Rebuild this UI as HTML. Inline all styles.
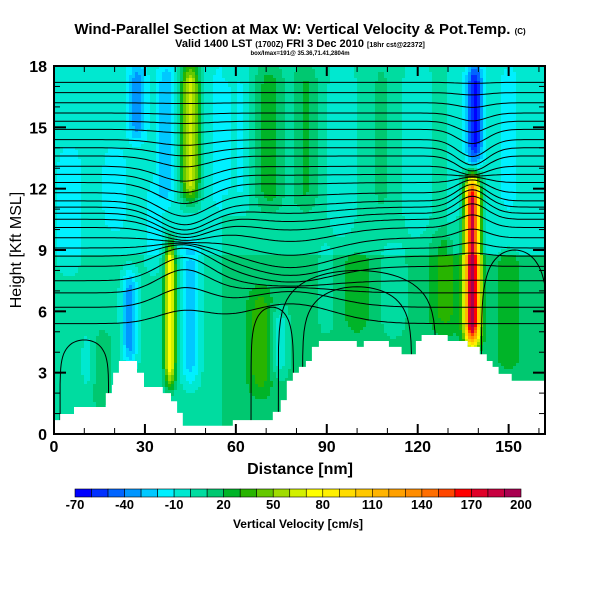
<!DOCTYPE html>
<html><head><meta charset="utf-8"><style>
body{margin:0;background:#fff;}
svg{display:block;font-family:"Liberation Sans",sans-serif;}
</style></head><body>
<svg id="chart" width="600" height="600" viewBox="0 0 600 600">
<text x="300" y="34" text-anchor="middle" font-size="15" font-weight="bold">Wind-Parallel Section at Max W: Vertical Velocity &amp; Pot.Temp. <tspan font-size="8">(C)</tspan></text>
<text x="300" y="47" text-anchor="middle" font-size="11" font-weight="bold">Valid 1400 LST <tspan font-size="8">(1700Z)</tspan> FRI 3 Dec 2010 <tspan font-size="7">[18hr cst@22372]</tspan></text>
<text x="300" y="55" text-anchor="middle" font-size="6" font-weight="bold">box/Imax=191@ 35.36,71.41,2804m</text>
<g id="field"></g>
<g id="contours"></g>
<g id="terrain"></g>
<g id="axes"></g>
<g id="cbar"></g>
<text x="300" y="474" text-anchor="middle" font-size="16" font-weight="bold">Distance [nm]</text>
<text transform="translate(21,250) rotate(-90)" text-anchor="middle" font-size="16">Height [Kft MSL]</text>
<text x="298" y="528" text-anchor="middle" font-size="12" font-weight="bold">Vertical Velocity [cm/s]</text>
</svg>
<script>
// ---- data ----
const xTicks=[0,30,60,90,120,150];
const yTicks=[0,3,6,9,12,15,18];
const cbLabels=[-70,-40,-10,20,50,80,110,140,170,200];
const binColors=["#0000ff","#0030ff","#0064ff","#0096ff","#00c8ff","#00f0ff","#00e8d0","#00dca0","#00c870","#00b428","#28b400","#64c800","#a0dc00","#d2f000","#ffff00","#fff000","#ffdc00","#ffc800","#ffb400","#ffa000","#ff8c00","#ff6e00","#ff4600","#ff0000","#e00028","#c80040","#a80050"];
// terrain steps (nm, kft)
const terrainX=[0,2,6.6,17.1,19.1,19.5,21.4,27.4,29.7,35.9,38.6,40.6,42.5,59,72.2,74.8,76.8,78.8,80.8,83.1,85.1,87.4,99.9,102.2,110.5,114.7,119.4,121.3,129.9,136.5,140.5,142.8,144.7,146.7,151,162];
const terrainZ=[0.68,0.98,1.32,2.0,2.4,3.0,3.57,3.0,2.3,2.0,1.6,1.03,0.4,0.68,1.08,1.66,2.6,3.0,3.28,3.57,4.26,4.55,4.26,4.55,4.26,3.9,4.55,4.84,4.55,4.26,3.9,3.57,3.28,2.94,2.6,2.6];
// velocity streaks
const streakX=[27.4,25,45,37,38.3,45,71,74.5,68,15,12,138,138.8,129,83,56,100,112,20,150,5,95,120,62,33,150,90,108];
const streakHW=[3.0,2.5,3.0,3.0,1.8,3.0,4.5,2.8,4,4,3,2.4,2.6,5,4,4,5,4,4,5,4,4,4,3,3,3,3,3];
const streakBot=[14.5,3.5,11.5,11.5,2.5,2.5,11,3,2,1.5,2,4.5,13.4,5,11,11,5,5,10,3,8,10,10,11,8,11,5,11];
const streakTop=[18,7.8,18,18,9.3,9.2,18,6,7,5,5,12.4,18,10,18,18,9,9,14,9,14,18,18,18,12,18,9,18];
const streakW=[-35,-40,70,-25,75,-28,22,-25,22,18,-14,185,-60,20,18,-14,12,-14,-14,10,-14,-12,-13,-12,-14,-12,-10,10];
// theta contours: base heights (kft)
const thetaLevels=[17.2,16.7,16.2,15.7,15.3,14.9,14.4,14.0,13.6,13.1,12.7,12.3,11.8,11.4,11.1,10.8,10.5,10.1,9.6,9.1,8.7,8.2,7.5,6.9,6.2,5.4];
const pinchX=[43,138,78];
const pinchZ=[9.4,12.6,7.2];
const pinchWidth=[12,7,20];
const pinchBand=[3.0,2.2,2.5];
// arch isentropes in lower layer: centre nm, half width nm, top kft
const archC=[100,100,72,152,10];
const archHW=[26,18,7,11,8];
const archTop=[8.0,7.2,6.2,9.0,4.6];

// ---- scales ----
const X0=54,X1=545,Y0=66,Y1=434,XMAX=162,ZMAX=18;
const sx=n=>X0+n*(X1-X0)/XMAX;
const sy=z=>Y1-z*(Y1-Y0)/ZMAX;
const NS="http://www.w3.org/2000/svg";
function mk(tag,attrs,parent){const e=document.createElementNS(NS,tag);for(const k in attrs)e.setAttribute(k,attrs[k]);parent.appendChild(e);return e;}
function colorFor(w){let i=Math.floor((w+70)/10);i=Math.max(0,Math.min(binColors.length-1,i));return binColors[i];}
function smooth(a,b,v){const t=Math.max(0,Math.min(1,(v-a)/(b-a)));return t*t*(3-2*t);}
function field(n,z){
  let base = z>8.8 ? -4 : (n<55 ? 4 : 14);
  if(z>8.8 && n>55 && n<130) base=3;
  let w=base;
  for(let i=0;i<streakX.length;i++){
    const d=(n-streakX[i])/streakHW[i];
    const v=smooth(streakBot[i]-1,streakBot[i]+1,z)*(1-smooth(streakTop[i]-1,streakTop[i]+1,z));
    w+=streakW[i]*Math.exp(-d*d)*v;
  }
  return w;
}
// ---- field ----
const fg=document.getElementById('field');
const cs=3;
for(let px=X0;px<X1;px+=cs){
  for(let py=Y0;py<Y1;py+=cs){
    const n=(px+cs/2-X0)*XMAX/(X1-X0), z=(Y1-(py+cs/2))*ZMAX/(Y1-Y0);
    const r=mk('rect',{x:px,y:py,width:Math.min(cs,X1-px),height:Math.min(cs,Y1-py),fill:colorFor(field(n,z))},fg);
    
    
  }
}
// ---- contours ----
const cg=document.getElementById('contours');
thetaLevels.forEach(h0=>{
  let d='';
  for(let n=0;n<=XMAX;n+=1){
    let h=h0;
    for(let k=0;k<pinchX.length;k++){
      const dx=(n-pinchX[k])/pinchWidth[k];
      const g=Math.exp(-dx*dx)*Math.exp(-Math.pow((h0-pinchZ[k])/pinchBand[k],2));
      h+= (pinchZ[k]-h0)*0.9*g;
    }
    d+=(n?'L':'M')+sx(n).toFixed(1)+','+sy(h).toFixed(1);
  }
  const p=mk('path',{d:d,fill:'none',stroke:'#000','stroke-width':1},cg);
  
  
});
archC.forEach((c,i)=>{
  let d='';
  for(let t=0;t<=40;t++){
    const a=Math.PI*t/40;
    const n=c-archHW[i]*Math.cos(a), z=archTop[i]*Math.pow(Math.sin(a),0.25);
    d+=(t?'L':'M')+sx(Math.max(0,Math.min(XMAX,n))).toFixed(1)+','+sy(z).toFixed(1);
  }
  const p=mk('path',{d:d,fill:'none',stroke:'#000','stroke-width':1},cg);
  
  
});
// ---- terrain ----
const tg=document.getElementById('terrain');
let td='M'+sx(0)+','+sy(0);
for(let i=0;i<terrainX.length;i++){
  const xe=i<terrainX.length-1?terrainX[i+1]:XMAX;
  td+='L'+sx(terrainX[i]).toFixed(1)+','+sy(terrainZ[i]).toFixed(1)+'L'+sx(xe).toFixed(1)+','+sy(terrainZ[i]).toFixed(1);
}
td+='L'+sx(XMAX)+','+sy(0)+'Z';
const tp=mk('path',{d:td,fill:'#fff',stroke:'none'},tg);


// ---- axes ----
const ag=document.getElementById('axes');
const fr=mk('rect',{x:X0,y:Y0,width:X1-X0,height:Y1-Y0,fill:'none',stroke:'#000','stroke-width':2},ag);


for(let n=0;n<=XMAX;n+=10){
  const major=n%30===0, L=major?10:6;
  mk('line',{x1:sx(n),x2:sx(n),y1:Y1,y2:Y1-L,stroke:'#000','stroke-width':major?2:1},ag);
  mk('line',{x1:sx(n),x2:sx(n),y1:Y0,y2:Y0+L,stroke:'#000','stroke-width':major?2:1},ag);
}
for(let z=0;z<=ZMAX;z+=1){
  const major=z%3===0, L=major?12:6;
  mk('line',{x1:X0,x2:X0+L,y1:sy(z),y2:sy(z),stroke:'#000','stroke-width':major?2:1},ag);
  mk('line',{x1:X1,x2:X1-L,y1:sy(z),y2:sy(z),stroke:'#000','stroke-width':major?2:1},ag);
}
xTicks.forEach(v=>{
  const t=mk('text',{x:sx(v),y:452,'text-anchor':'middle','font-size':16,'font-weight':'bold'},ag);
  t.textContent=v;
  
  
});
yTicks.forEach(v=>{
  const t=mk('text',{x:47,y:sy(v)+6,'text-anchor':'end','font-size':16,'font-weight':'bold'},ag);
  t.textContent=v;
  
  
});
// ---- colorbar ----
const cb=document.getElementById('cbar');
const CB0=75,CB1=521,bw=(CB1-CB0)/binColors.length;
binColors.forEach((c,i)=>{
  const r=mk('rect',{x:CB0+i*bw,y:489,width:bw,height:8,fill:c,stroke:'#000','stroke-width':0.6},cb);
  
  
});
cbLabels.forEach(v=>{
  const t=mk('text',{x:CB0+(v+70)/10*bw,y:509,'text-anchor':'middle','font-size':13,'font-weight':'bold'},cb);
  t.textContent=v;
  
  
});
</script>
</body></html>
